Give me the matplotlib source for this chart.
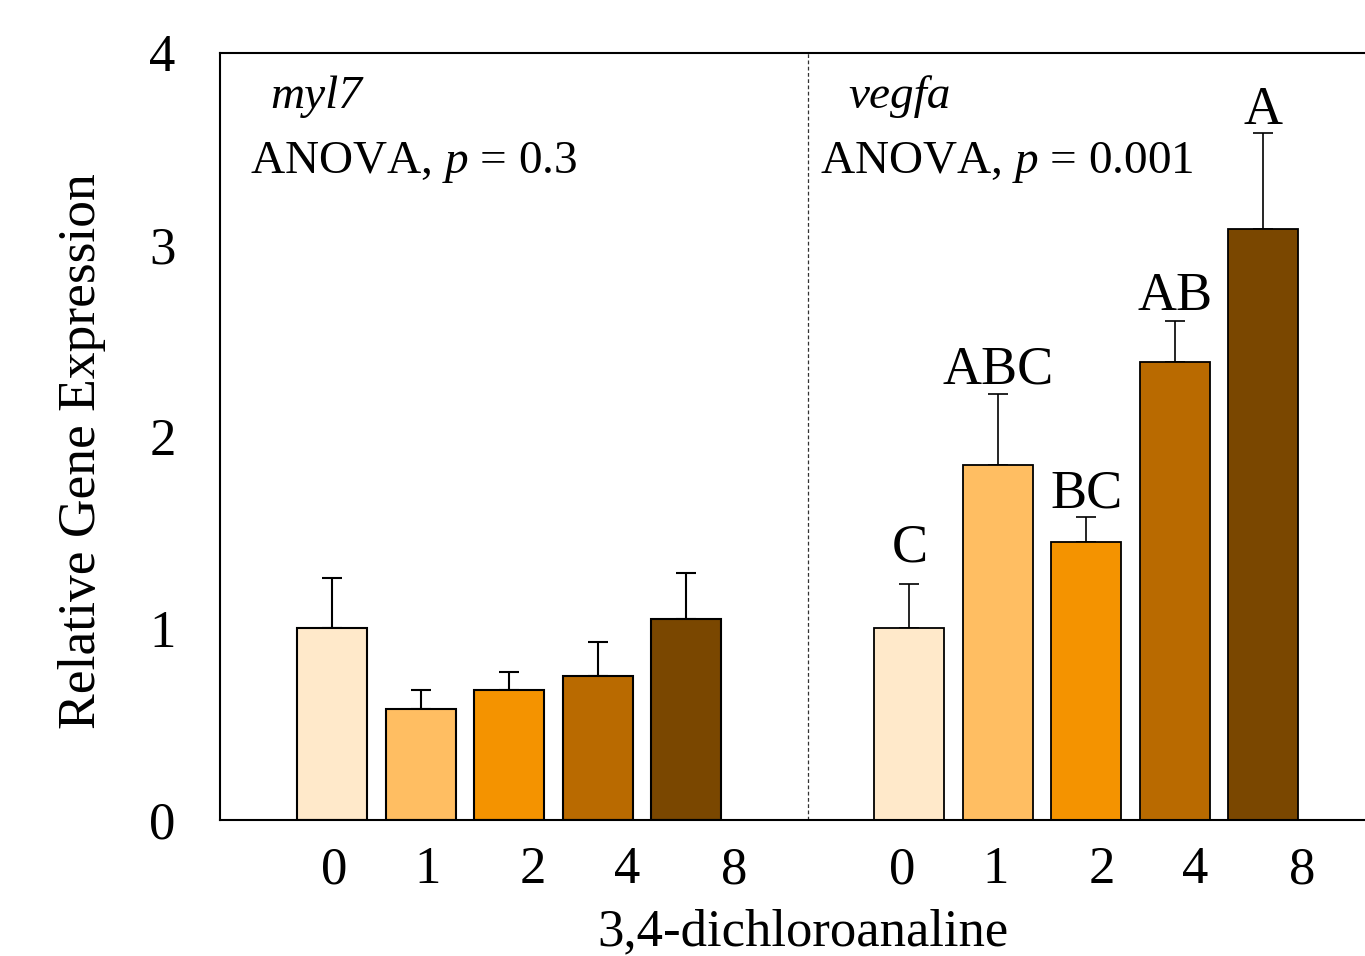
import matplotlib
matplotlib.use("Agg")
import matplotlib.pyplot as plt

plt.rcParams['font.family'] = ['Liberation Serif', 'DejaVu Serif']
plt.rcParams['mathtext.fontset'] = 'custom'
plt.rcParams['mathtext.it'] = 'Liberation Serif:italic'
plt.rcParams['mathtext.rm'] = 'Liberation Serif'

doses = ["0", "1", "2", "4", "8"]
myl7_mean = [1.00, 0.58, 0.68, 0.75, 1.05]
myl7_err = [0.26, 0.10, 0.09, 0.18, 0.24]
vegfa_mean = [1.00, 1.85, 1.45, 2.39, 3.08]
vegfa_err = [0.23, 0.37, 0.13, 0.21, 0.50]
vegfa_letters = ["C", "ABC", "BC", "AB", "A"]
colors = ["#FFE9CA", "#FFBE62", "#F49300", "#B96A00", "#7A4700"]

left_pos = [0, 1, 2, 3, 4]
right_pos = [p + 6.52 for p in left_pos]
left_tick = [0.02, 1.07, 2.27, 3.33, 4.54]
right_tick = [6.44, 7.49, 8.69, 9.75, 10.96]
letter_gap = [0.12, 0.055, 0.05, 0.06, 0.05]

fig = plt.figure(figsize=(13.65, 9.56), dpi=100)
ax = fig.add_axes([0.1612, 0.1423, 0.8388, 0.8023])

ax.bar(left_pos, myl7_mean, width=0.79, color=colors, edgecolor='black', linewidth=1.5, zorder=2)
ax.errorbar(left_pos, myl7_mean, yerr=[[0]*5, myl7_err], fmt='none', ecolor='black',
            elinewidth=1.5, capsize=7, capthick=1.5, zorder=1)
ax.bar(right_pos, vegfa_mean, width=0.79, color=colors, edgecolor='black', linewidth=1.3, zorder=2)
ax.errorbar(right_pos, vegfa_mean, yerr=[[0]*5, vegfa_err], fmt='none', ecolor='black',
            elinewidth=1.2, capsize=7, capthick=1.2, zorder=1)

for x, m, e, g, lab in zip(right_pos, vegfa_mean, vegfa_err, letter_gap, vegfa_letters):
    ax.text(x, m + e + g, lab, ha='center', va='baseline', fontsize=39)

ax.axvline(5.37, color='#333333', linestyle=(0, (3, 2)), linewidth=0.9, zorder=0)

ax.set_xlim(-1.27, 11.67)
ax.set_ylim(0, 4)
ax.set_yticks([0, 1, 2, 3, 4])
ax.set_yticklabels(["0", "1", "2", "3", "4"])
ax.set_xticks(left_tick + right_tick)
ax.set_xticklabels(doses + doses)
ax.tick_params(axis='both', length=0, labelsize=38)
ax.tick_params(axis='y', pad=32)
ax.tick_params(axis='x', pad=19)
for lab in ax.get_yticklabels():
    lab.set_horizontalalignment('right')

for s in ['top', 'left', 'bottom']:
    ax.spines[s].set_linewidth(1.5)
ax.spines['right'].set_visible(False)

ax.set_ylabel("Relative Gene Expression", fontsize=38.5, labelpad=31, y=0.481)
ax.set_xlabel("3,4-dichloroanaline", fontsize=38, labelpad=10, x=0.509)

ax.text(-0.7, 3.77, "myl7", fontsize=34, style='italic', ha='left', va='center')
ax.text(-0.93, 3.43, r"ANOVA, $p$ = 0.3", fontsize=34, ha='left', va='center')
ax.text(5.83, 3.77, "vegfa", fontsize=34, style='italic', ha='left', va='center')
ax.text(5.51, 3.43, r"ANOVA, $p$ = 0.001", fontsize=34, ha='left', va='center')

fig.savefig("out.png", dpi=100)
